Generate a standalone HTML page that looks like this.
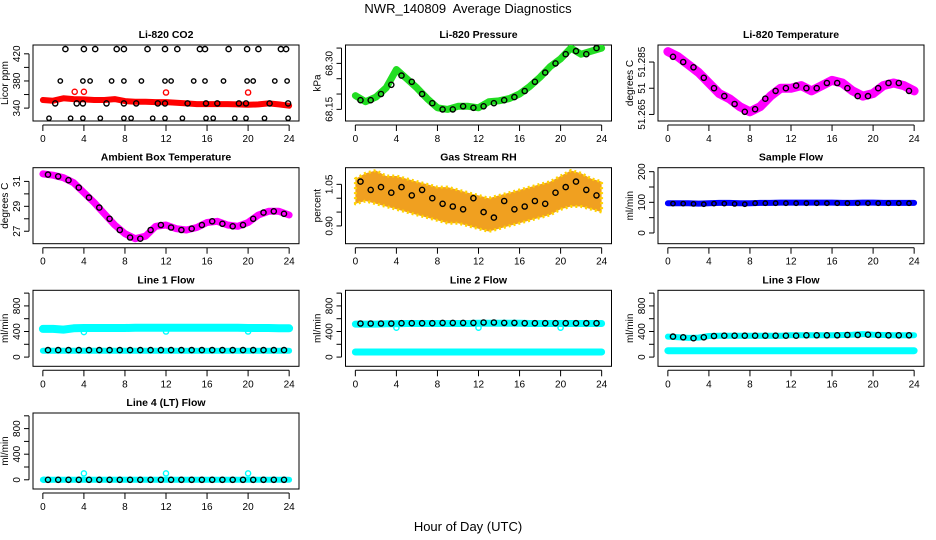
<!DOCTYPE html>
<html><head><meta charset="utf-8">
<style>
html,body{margin:0;padding:0;background:#fff}
svg{display:block;font-family:"Liberation Sans",sans-serif}
</style></head>
<body>
<svg id="chart" width="936" height="540" viewBox="0 0 936 540" xmlns="http://www.w3.org/2000/svg">
<text x="468" y="13" text-anchor="middle" font-size="13" style="white-space:pre">NWR_140809  Average Diagnostics</text>
<text x="468" y="531" text-anchor="middle" font-size="13">Hour of Day (UTC)</text>
</svg>
<script>
// ---- data ----
const xTicks = [0,4,8,12,16,20,24];
// CO2 panel
const co2TopHours = [2.2,4.0,5.1,7.2,7.9,10.2,11.9,13.1,15.3,15.8,18.1,19.9,21.0,23.2,23.7];
const co2TopVals  = [427,427,427,427,427,427,427,427,427,427,427,427,427,427,427];
const co2MidHighHours = [1.7,3.9,4.6,6.7,7.9,9.6,11.9,12.5,14.7,15.8,17.6,19.9,20.5,22.6,23.8];
const co2MidHighVals  = [380,380,380,380,380,380,380,380,380,380,380,380,380,380,380];
const co2MidHours = [1.2,3.3,3.9,6.2,7.9,9.1,11.2,11.9,14.1,15.9,17.0,19.1,19.8,22.1,23.9];
const co2MidVals  = [347,347,347,347,347,347,347,347,347,347,347,347,347,347,347];
const co2LowHours = [0.6,2.7,3.9,5.6,7.9,8.6,10.7,11.9,13.6,15.9,16.6,18.7,19.8,21.6,23.9];
const co2LowVals  = [325,325,325,325,325,325,325,325,325,325,325,325,325,325,325];
const co2RedOutHours = [3.1,4.0,12.0,20.0];
const co2RedOutVals  = [364,364,363,363];
const co2Band = [351.9,350.9,354.4,353.3,352.8,351.9,351.9,353.3,350.4,349.4,349.4,348.9,348.9,347.9,346.9,345.9,345.9,345.9,345.9,345.4,344.9,345.4,346.9,345.4,343.5];
// Pressure
const presBand = [68.195,68.175,68.19,68.22,68.28,68.25,68.22,68.185,68.155,68.15,68.16,68.16,68.155,68.175,68.178,68.185,68.20,68.225,68.255,68.29,68.315,68.35,68.33,68.34,68.35];
const presPts  = [68.18,68.18,68.20,68.23,68.26,68.24,68.20,68.17,68.15,68.15,68.16,68.155,68.16,68.17,68.18,68.19,68.21,68.24,68.27,68.30,68.33,68.34,68.33,68.35];
// Li-820 temperature
const tempBand = [51.289,51.287,51.284,51.281,51.277,51.273,51.271,51.268,51.266,51.268,51.272,51.275,51.275,51.276,51.274,51.276,51.278,51.277,51.274,51.272,51.273,51.276,51.277,51.276,51.274];
const tempPts  = [51.287,51.285,51.283,51.279,51.275,51.272,51.269,51.266,51.267,51.271,51.274,51.275,51.276,51.275,51.275,51.277,51.277,51.275,51.272,51.272,51.275,51.277,51.277,51.274];
// Ambient box temperature
const ambBand = [31.6,31.5,31.3,30.9,30.1,29.3,28.4,27.5,26.8,26.4,26.6,27.4,27.5,27.2,27.1,27.3,27.7,27.8,27.5,27.4,27.7,28.3,28.6,28.6,28.3];
const ambPts  = [31.55,31.4,31.1,30.5,29.7,28.9,28.0,27.1,26.5,26.4,27.1,27.5,27.3,27.1,27.2,27.5,27.8,27.6,27.4,27.5,28.0,28.5,28.6,28.4];
// Gas stream RH
const rhUpper = [1.07,1.09,1.10,1.08,1.08,1.07,1.06,1.05,1.04,1.04,1.03,1.02,1.01,1.00,1.01,1.02,1.03,1.04,1.05,1.06,1.08,1.10,1.09,1.07,1.06];
const rhLower = [0.98,0.99,0.98,0.97,0.96,0.95,0.94,0.93,0.92,0.91,0.91,0.90,0.89,0.88,0.89,0.90,0.91,0.92,0.93,0.94,0.96,0.97,0.97,0.96,0.95];
const rhPts   = [1.06,1.03,1.04,1.02,1.04,1.01,1.03,1.00,0.98,0.97,0.96,1.00,0.95,0.93,0.99,0.96,0.97,0.99,0.98,1.02,1.04,1.06,1.03,1.01];
// Sample flow
const sampBand = [97,97,97,96,97,98,98,97,97,98,98,99,99,99,99,99,99,98,98,99,99,98,98,98,98];
const sampPts  = [96,96,95,94,96,96,95,94,97,97,97,97,97,97,97,97,97,97,97,97,97,97,97,97];
// Line 1 flow
const l1High = [440,440,430,450,455,455,455,455,455,460,460,460,460,460,460,460,460,460,460,460,455,455,455,450,450];
const l1Low  = [100,100,100,100,100,100,100,100,100,100,100,100,100,100,100,100,100,100,100,100,100,100,100,100,100];
const l1Pts  = [110,110,110,110,110,110,110,110,110,110,110,110,110,110,110,110,110,110,110,110,110,110,110,110];
const l1OutHours = [4.0,12.0,20.0];
const l1OutVals  = [390,400,400];
// Line 2 flow
const l2High = [515,515,515,520,520,525,525,525,525,525,525,525,530,530,530,530,530,525,525,525,525,525,525,525,525];
const l2Low  = [80,80,80,80,80,80,80,80,80,80,80,80,80,80,80,80,80,80,80,80,80,80,80,80,80];
const l2Pts  = [525,525,525,525,530,530,530,530,535,535,535,535,540,540,535,535,530,530,530,530,530,530,530,530];
const l2OutHours = [4.0,12.0,20.0];
const l2OutVals  = [460,460,460];
// Line 3 flow
const l3High = [320,310,300,305,330,335,335,335,335,335,335,335,340,340,340,340,340,345,350,360,350,345,340,340,340];
const l3Low  = [100,100,100,100,100,100,100,100,100,100,100,100,100,100,100,100,100,100,100,100,100,100,100,100,100];
const l3Pts  = [320,310,295,310,330,335,335,335,335,335,335,335,335,340,340,340,340,345,345,350,345,340,340,340];
// Line 4 flow
const l4Band = [0,0,0,0,0,0,0,0,0,0,0,0,0,0,0,0,0,0,0,0,0,0,0,0,0];
const l4Pts  = [0,0,0,0,0,0,0,0,0,0,0,0,0,0,0,0,0,0,0,0,0,0,0,0];
const l4OutHours = [0.1,4.0,12.0,20.0];
const l4OutVals  = [0,100,100,100];

// ---- drawing ----
const NS='http://www.w3.org/2000/svg';
const svg=document.getElementById('chart');
const colL=[33,345.5,658], rowT=[45,167.7,290.3,413], W=266, H=76;
function mk(tag,attrs,parent){const e=document.createElementNS(NS,tag);for(const k in attrs)e.setAttribute(k,attrs[k]);(parent||svg).appendChild(e);return e;}
function hoursHourly(n){const a=[];for(let i=0;i<n;i++)a.push(i);return a;}
function hoursHalf(n){const a=[];for(let i=0;i<n;i++)a.push(i+0.5);return a;}

function panel(name,col,row,title,ylab,ylim,ticks,tickLabels){
  const L=colL[col],T=rowT[row];
  const g=mk('g',{});
  
  
  const xs=h=>L+W*((h+0.96)/25.92);
  const ys=v=>T+H*(ylim[1]-v)/(ylim[1]-ylim[0]);
  const t=mk('text',{x:L+W/2,y:T-7,'text-anchor':'middle','font-size':'10.5','font-weight':'bold'},g);
  t.textContent=title;
  
  
  const box=mk('rect',{x:L,y:T,width:W,height:H,fill:'none',stroke:'#000','stroke-width':1},g);
  
  
  const xa=mk('g',{},g);
  
  
  mk('line',{x1:xs(0),x2:xs(24),y1:T+H+4,y2:T+H+4,stroke:'#000'},xa);
  xTicks.forEach(v=>{
    mk('line',{x1:xs(v),x2:xs(v),y1:T+H+4,y2:T+H+10,stroke:'#000'},xa);
    const tl=mk('text',{x:xs(v),y:T+H+21,'text-anchor':'middle','font-size':'10'},xa);
    tl.textContent=v;
    
    
  });
  const ya=mk('g',{},g);
  
  
  const y0=ys(ticks[0]),y1=ys(ticks[ticks.length-1]);
  mk('line',{x1:L-4,x2:L-4,y1:y0,y2:y1,stroke:'#000'},ya);
  ticks.forEach((v,i)=>{
    mk('line',{x1:L-4,x2:L-9,y1:ys(v),y2:ys(v),stroke:'#000'},ya);
    if(tickLabels[i]!==''){
      const tl=mk('text',{x:0,y:0,'text-anchor':'middle','font-size':'10',transform:`translate(${L-13},${ys(v)}) rotate(-90)`},ya);
      tl.textContent=tickLabels[i];
      
      
    }
  });
  const yl=mk('text',{x:0,y:0,'text-anchor':'middle','font-size':'10',transform:`translate(${L-25},${T+H/2}) rotate(-90)`},g);
  yl.textContent=ylab;
  
  
  const clip='clip'+col+row;
  const cp=mk('clipPath',{id:clip},g);mk('rect',{x:L,y:T,width:W,height:H},cp);
  const dg=mk('g',{'clip-path':`url(#${clip})`},g);
  
  
  return {xs,ys,g:dg};
}
function band(p,hours,vals,color,width,nm){
  const pts=hours.map((h,i)=>p.xs(h).toFixed(1)+','+p.ys(vals[i]).toFixed(1)).join(' ');
  const e=mk('polyline',{points:pts,fill:'none',stroke:color,'stroke-width':width,'stroke-linejoin':'round','stroke-linecap':'round'},p.g);
  
  
}
function area(p,hours,up,lo,color,nm){
  const a=hours.map((h,i)=>p.xs(h).toFixed(1)+','+p.ys(up[i]).toFixed(1));
  const b=hours.map((h,i)=>p.xs(h).toFixed(1)+','+p.ys(lo[i]).toFixed(1)).reverse();
  const e=mk('polygon',{points:a.concat(b).join(' '),fill:color,stroke:'#ffd400','stroke-width':3,'stroke-dasharray':'2 3','stroke-linejoin':'round'},p.g);
  
  
}
function circles(p,hours,vals,color,nm,r){
  hours.forEach((h,i)=>{
    const c=mk('circle',{cx:p.xs(h).toFixed(1),cy:p.ys(vals[i]).toFixed(1),r:r||2.6,fill:'none',stroke:color,'stroke-width':1.4},p.g);
    
    
  });
}
const H25=hoursHourly(25), H24=hoursHalf(24);

let p=panel('co2',0,0,'Li-820 CO2','Licor ppm',[321,433],[340,360,380,400,420],['340','','380','','420']);
band(p,H25,co2Band,'#ff0000',6,'co2-band');
circles(p,co2RedOutHours,co2RedOutVals,'#ff0000','co2-red-outlier');
circles(p,co2TopHours,co2TopVals,'#000','co2-point');
circles(p,co2MidHighHours,co2MidHighVals,'#000','co2-point',2.2);
circles(p,co2MidHours,co2MidVals,'#000','co2-point');
circles(p,co2LowHours,co2LowVals,'#000','co2-point',2.2);

p=panel('pressure',1,0,'Li-820 Pressure','kPa',[68.112,68.36],[68.15,68.20,68.25,68.30,68.35],['68.15','','','68.30','']);
band(p,H25,presBand,'#22dd22',7,'pressure-band');
circles(p,H24,presPts,'#000','pressure-point');

p=panel('li820-temp',2,0,'Li-820 Temperature','degrees C',[51.2625,51.2915],[51.265,51.275,51.285],['51.265','51','51.285']);
band(p,H25,tempBand,'#ff00ff',9,'li820-temp-band');
circles(p,H24,tempPts,'#000','li820-temp-point');

p=panel('ambient',0,1,'Ambient Box Temperature','degrees C',[26.0,32.1],[27,28,29,30,31],['27','','29','','31']);
band(p,H25,ambBand,'#ff00ff',7,'ambient-band');
circles(p,H24,ambPts,'#000','ambient-point');

p=panel('rh',1,1,'Gas Stream RH','percent',[0.836,1.11],[0.90,0.95,1.00,1.05],['0.90','','','1.05']);
area(p,H25,rhUpper,rhLower,'#f0a020','rh-scatter-area');
circles(p,H24,rhPts,'#000','rh-point');

p=panel('sample-flow',2,1,'Sample Flow','ml/min',[-35,213],[0,50,100,150,200],['0','','100','','200']);
band(p,H25,sampBand,'#0000ff',6,'sample-flow-band');
circles(p,H24,sampPts,'#000','sample-flow-point',2.2);

p=panel('line1-flow',0,2,'Line 1 Flow','ml/min',[-144,1044],[0,200,400,600,800,1000],['0','','400','','800','']);
band(p,H25,l1High,'#00ffff',8,'line1-high-band');
band(p,H25,l1Low,'#00ffff',6,'line1-low-band');
circles(p,l1OutHours,l1OutVals,'#00ffff','line1-outlier');
circles(p,H24,l1Pts,'#000','line1-point');

p=panel('line2-flow',1,2,'Line 2 Flow','ml/min',[-144,1044],[0,200,400,600,800,1000],['0','','400','','800','']);
band(p,H25,l2High,'#00ffff',7,'line2-high-band');
band(p,H25,l2Low,'#00ffff',7,'line2-low-band');
circles(p,l2OutHours,l2OutVals,'#00ffff','line2-outlier');
circles(p,H24,l2Pts,'#000','line2-point');

p=panel('line3-flow',2,2,'Line 3 Flow','ml/min',[-144,1044],[0,200,400,600,800,1000],['0','','400','','800','']);
band(p,H25,l3High,'#00ffff',6,'line3-high-band');
band(p,H25,l3Low,'#00ffff',7,'line3-low-band');
circles(p,H24,l3Pts,'#000','line3-point');

p=panel('line4-flow',0,3,'Line 4 (LT) Flow','ml/min',[-144,1044],[0,200,400,600,800,1000],['0','','400','','800','']);
band(p,H25,l4Band,'#00ffff',6,'line4-band');
circles(p,l4OutHours,l4OutVals,'#00ffff','line4-outlier');
circles(p,H24,l4Pts,'#000','line4-point');
</script>
</body></html>
